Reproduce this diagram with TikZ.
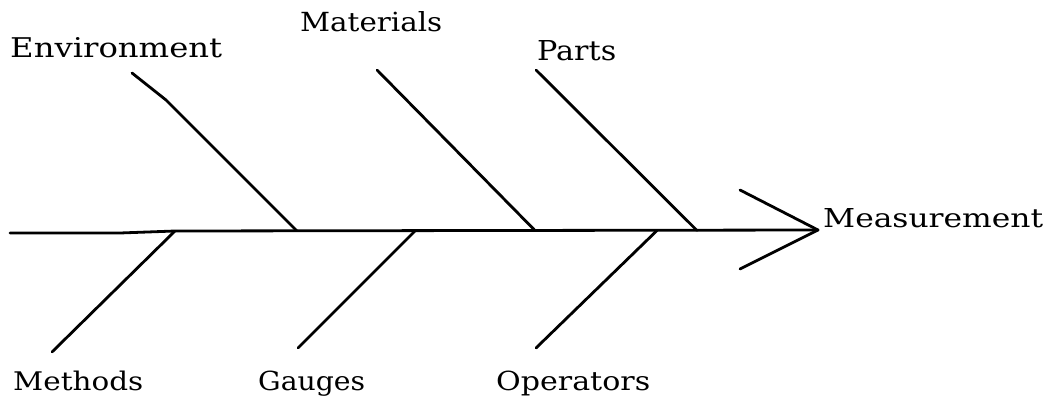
\documentclass[tikz,border=0pt]{standalone}
\usepackage{fontspec}
\setmainfont{DejaVu Serif}
\usepackage{graphicx}
\begin{document}
\begin{tikzpicture}[x=1pt,y=-1pt,
  bone/.style={line width=2.8pt,line join=round,line cap=round},
  lbl/.style={anchor=base west,inner sep=0pt,font=\fontsize{25.5}{26}\selectfont}]
\useasboundingbox (0,0) rectangle (1051,396);
% labels
\node[lbl] (env) at (10,57) {\resizebox{212pt}{20pt}{Environment}};
\node[lbl] (mat) at (300,32) {\resizebox{142pt}{20pt}{Materials}};
\node[lbl] (parts) at (537,61) {\resizebox{79pt}{20pt}{Parts}};
\node[lbl] (meas) at (823,227) {\resizebox{220pt}{19pt}{Measurement}};
\node[lbl] (meth) at (13,390) {\resizebox{130pt}{19.5pt}{Methods}};
\node[lbl] (gau) at (258,390) {\resizebox{107pt}{19.5pt}{Gauges}};
\node[lbl] (op) at (496,390) {\resizebox{154pt}{19.5pt}{Operators}};
% spine coordinates
\coordinate (tail) at (10,233);
\coordinate (s0) at (120,233);
\coordinate (s1) at (175,231);
\coordinate (s2) at (297,231);
\coordinate (s3) at (415,231);
\coordinate (s4) at (535,230.5);
\coordinate (s5) at (657,230.5);
\coordinate (s6) at (697,230.5);
\coordinate (head) at (818,230);
\coordinate (au) at (740,190);
\coordinate (al) at (740,269);
% bone ends
\coordinate (e1) at (132,73);
\coordinate (e2) at (166,100);
\coordinate (m1) at (377,70);
\coordinate (p1) at (536,70);
\coordinate (b1) at (52,352);
\coordinate (b2) at (298,348);
\coordinate (b3) at (536,348);
% spine
\draw[bone] (tail) -- (s0) -- (s1) -- (head);
\draw[bone] (au) -- (head) -- (al);
% upper bones
\draw[bone] (e1) -- (e2) -- (s2);
\draw[bone] (m1) -- (s4);
\draw[bone] (p1) -- (s6);
% lower bones
\draw[bone] (s1) -- (b1);
\draw[bone] (s3) -- (b2);
\draw[bone] (s5) -- (b3);
\end{tikzpicture}
\end{document}
